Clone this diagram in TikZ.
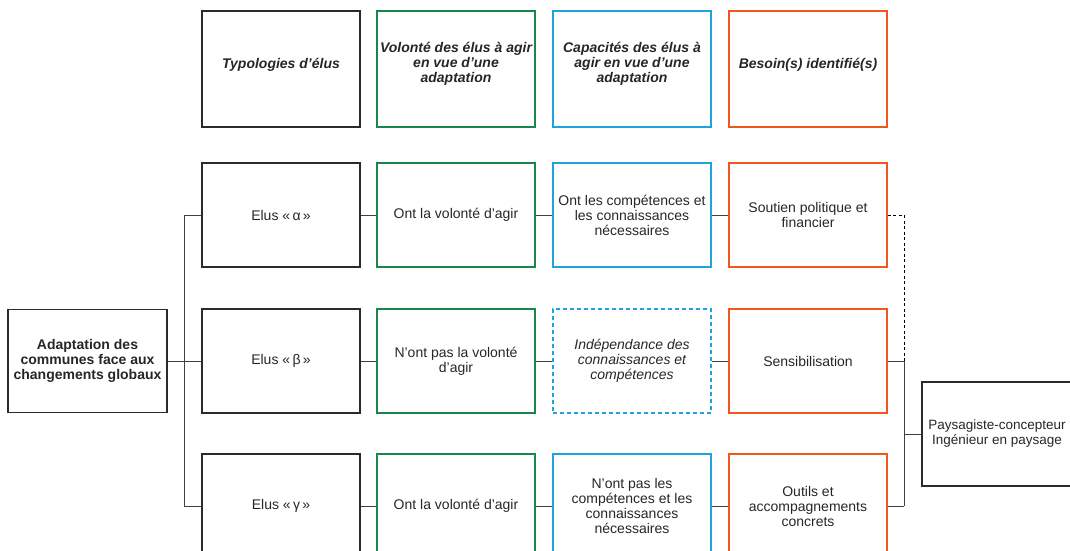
\documentclass[tikz,border=0pt]{standalone}
\usepackage{fontspec}
\setmainfont{Liberation Sans}
\definecolor{cgreen}{HTML}{17884A}
\definecolor{cblue}{HTML}{1FA3DD}
\definecolor{corange}{HTML}{F2561F}
\definecolor{cblack}{HTML}{2B2B2B}
\definecolor{cline}{HTML}{404040}
\begin{document}
\begin{tikzpicture}[x=1pt,y=-1pt,
  box/.style={draw, minimum width=158pt, minimum height=104pt, inner sep=0pt,
    align=center, font=\fontsize{14}{15}\selectfont, line width=1.15pt, text=black!85},
  hbox/.style={draw, minimum width=158pt, minimum height=116pt, inner sep=0pt,
    line width=1.8pt},
  htext/.style={align=center, font=\fontsize{14}{15}\selectfont\bfseries\itshape, text=black!85},
  conn/.style={draw=cline, line width=1pt},
  dconn/.style={draw=black, line width=1pt, dash pattern=on 3pt off 2.5pt}
]
\useasboundingbox (0,0) rectangle (1070,551);

% headers
\node[hbox, draw=cblack] (h1) at (281,69) {};
\node[htext] (t1) at (281,65) {Typologies d’élus};
\node[hbox, draw=cgreen] (h2) at (456,69) {};
\node[htext] (t2) at (456,64) {Volonté des élus à agir\\en vue d’une\\adaptation};
\node[hbox, draw=cblue] (h3) at (632,69) {};
\node[htext] (t3) at (632,64) {Capacités des élus à\\agir en vue d’une\\adaptation};
\node[hbox, draw=corange] (h4) at (808,69) {};
\node[htext] (t4) at (808,65) {Besoin(s) identifié(s)};

% root
\node[box, draw=cblack, minimum width=159pt, minimum height=103pt, font=\fontsize{14}{15}\selectfont\bfseries] (root) at (87.5,361) {Adaptation des\\communes face aux\\changements globaux};

% row 1
\node[box, draw=cblack] (a1) at (281,215) {Elus «\,α\,»};
\node[box, draw=cgreen] (a2) at (456,215) {Ont la volonté d’agir};
\node[box, draw=cblue] (a3) at (632,215) {Ont les compétences et\\les connaissances\\nécessaires};
\node[box, draw=corange] (a4) at (808,215) {Soutien politique et\\financier};

% row 2
\node[box, draw=cblack] (b1) at (281,361) {Elus «\,β\,»};
\node[box, draw=cgreen] (b2) at (456,361) {N’ont pas la volonté\\d’agir};
\node[box, draw=cblue, dash pattern=on 4pt off 3pt, font=\fontsize{14}{15}\selectfont\itshape] (b3) at (632,361) {Indépendance des\\connaissances et\\compétences};
\node[box, draw=corange] (b4) at (808,361) {Sensibilisation};

% row 3
\node[box, draw=cblack] (c1) at (281,506) {Elus «\,γ\,»};
\node[box, draw=cgreen] (c2) at (456,506) {Ont la volonté d’agir};
\node[box, draw=cblue] (c3) at (632,506) {N’ont pas les\\compétences et les\\connaissances\\nécessaires};
\node[box, draw=corange] (c4) at (808,506) {Outils et\\accompagnements\\concrets};

% right box
\node[box, draw=cblack, minimum width=150pt, font=\fontsize{13.5}{15}\selectfont] (p) at (997,434) {Paysagiste-concepteur\\Ingénieur en paysage};

% coordinates
\coordinate (lb) at (184,361);
\coordinate (lt) at (184,215);
\coordinate (lbot) at (184,506);
\coordinate (rt) at (904,215);
\coordinate (rm) at (904,361);
\coordinate (rb) at (904,506);
\coordinate (rp) at (904,434);

% left tree
\draw[conn] (root.east) -- (lb);
\draw[conn] (lt) -- (lbot);
\draw[conn] (lt) -- (a1.west);
\draw[conn] (lb) -- (b1.west);
\draw[conn] (lbot) -- (c1.west);

% row links
\draw[conn] (a1) -- (a2);
\draw[conn] (a2) -- (a3);
\draw[conn] (a3) -- (a4);
\draw[conn] (b1) -- (b2);
\draw[conn] (b2) -- (b3);
\draw[conn] (b3) -- (b4);
\draw[conn] (c1) -- (c2);
\draw[conn] (c2) -- (c3);
\draw[conn] (c3) -- (c4);

% right tree
\draw[dconn] (a4.east) -- (rt) -- (rm);
\draw[conn] (b4.east) -- (rm);
\draw[conn] (c4.east) -- (rb);
\draw[conn] (rm) -- (rb);
\draw[conn] (rp) -- (p.west);
\end{tikzpicture}
\end{document}
